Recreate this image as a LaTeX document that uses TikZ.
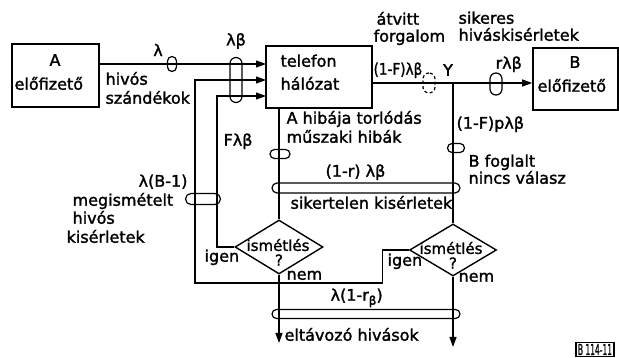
\documentclass[tikz,border=0pt]{standalone}
\usepackage{fontspec}
\setmainfont{DejaVu Sans}[FakeBold=1.6]
\usetikzlibrary{arrows.meta,shapes.geometric}
\begin{document}
\begin{tikzpicture}[x=1pt,y=-1pt,line width=1.2pt,
  lbl/.style={inner sep=0pt,font=\fontsize{16}{18}\selectfont},
  lw/.style={lbl,anchor=mid west},
  dl/.style={inner sep=0pt,font=\fontsize{15}{16}\selectfont},
  box/.style={draw,line width=1.7pt,inner sep=0pt},
  dia/.style={draw,diamond,inner sep=0pt,line width=1.4pt},
  slot/.style={draw,inner sep=0pt,line width=1.2pt},
  arr/.style={-{Triangle[length=10pt,width=7pt]}}]
\useasboundingbox (0,0) rectangle (619,358);
% boxes
\node[box,minimum width=87pt,minimum height=63pt] (A) at (55.5,75.5) {};
\node[box,minimum width=106pt,minimum height=62pt] (tel) at (319,77) {};
\node[box,minimum width=85pt,minimum height=62pt] (B) at (575.5,79) {};
\node[dia,minimum width=88pt,minimum height=54pt] (d1) at (279,247) {};
\node[dia,minimum width=87pt,minimum height=52pt] (d2) at (453,250) {};
% coordinates
\coordinate (t1) at (266,64);
\coordinate (t2) at (266,80);
\coordinate (t3) at (266,96);
\coordinate (jn) at (453,83);
\coordinate (e1) at (279,343);
\coordinate (e2) at (453,347);
% connectors
\draw[arr] (A.east |- t1) -- (t1);
\draw[arr] (d2.west) -- ++(-26,0) |- (195,283) |- (t2);
\draw[arr] (d1.west) -- (217,247) |- (t3);
\draw (tel.south -| d1.north) -- (d1.north);
\draw[arr] (tel.east |- jn) -- (B.west |- jn);
\draw (jn) -- (d2.north);
\draw[arr] (d1.south) -- (e1);
\draw[arr] (d2.south) -- (e2);
% slots
\node[slot,rounded corners=4.5pt,minimum width=9pt,minimum height=15pt] (s1) at (172,64) {};
\node[slot,rounded corners=6pt,minimum width=12pt,minimum height=45pt] (s2) at (236,80) {};
\node[slot,rounded corners=4.5pt,minimum width=20pt,minimum height=9pt] (s3) at (280,154) {};
\node[slot,rounded corners=4.5pt,minimum width=17pt,minimum height=9pt] (s4) at (456,148) {};
\node[slot,rounded corners=5pt,minimum width=188pt,minimum height=10pt] (s5) at (366,188) {};
\node[slot,rounded corners=5.5pt,minimum width=35pt,minimum height=11pt] (s6) at (203,199) {};
\node[slot,rounded corners=4.5pt,minimum width=188pt,minimum height=9pt] (s7) at (366,314) {};
\node[slot,dashed,dash pattern=on 3pt off 2.5pt,rounded corners=6pt,minimum width=12pt,minimum height=20pt] (s8) at (429,83) {};
\node[slot,rounded corners=6pt,minimum width=12pt,minimum height=22pt] (s9) at (496,84) {};
% texts
\node[lbl] (tA) at (55,60) {A};
\node[lw] (tA2) at (14,87) {előfizető};
\node[lw] (h1) at (105,82) {hivós};
\node[lw] (h2) at (105,101) {szándékok};
\node[lbl] (l1) at (158,50) {λ};
\node[lbl] (l2) at (236,41) {λβ};
\node[lw] (tt1) at (280,64) {telefon};
\node[lw] (tt2) at (280,87) {hálózat};
\node[lw] (a1) at (376,22) {átvitt};
\node[lw] (a2) at (373,39) {forgalom};
\node[lw] (k1) at (458,21) {sikeres};
\node[lw] (k2) at (458,38) {hiváskisérletek};
\node[lw] (f1) at (373,72) {\scalebox{0.85}[1]{(1-F)λβ}};
\node[lbl] (Y) at (448,70) {Y};
\node[lw] (r1) at (495,66) {rλβ};
\node[lbl] (tB) at (575,62) {B};
\node[lw] (tB2) at (537,89) {előfizető};
\node[lw] (ah1) at (286,121) {A hibája torlódás};
\node[lw] (ah2) at (286,140) {műszaki hibák};
\node[lw] (F) at (223,143) {Fλβ};
\node[lw] (fp) at (456,126) {(1-F)pλβ};
\node[lw] (bf1) at (468,164) {B foglalt};
\node[lw] (bf2) at (468,181) {nincs válasz};
\node[lw] (rl) at (325,174) {(1-r) λβ};
\node[lw] (sk) at (290,206) {sikertelen kisérletek};
\node[lw] (lb) at (138,184) {λ(B-1)};
\node[lw] (m1) at (72,203) {megismételt};
\node[lw] (m2) at (72,221) {hivós};
\node[lw] (m3) at (66,240) {kisérletek};
\node[dl] (i1) at (278,245) {ismétlés};
\node[dl] (q1) at (279,260) {?};
\node[lw] (ig1) at (204,259) {igen};
\node[lw] (n1) at (286,277) {nem};
\node[dl] (i2) at (451,248) {ismétlés};
\node[dl] (q2) at (453,263) {?};
\node[lw] (ig2) at (387,263) {igen};
\node[lw] (n2) at (458,279) {nem};
\node[lw] (lr) at (330,298) {λ(1-r\raisebox{-4pt}{\fontsize{12}{12}\selectfont β})};
\node[lw] (el) at (284,338) {eltávozó hivások};
\node[box,line width=1.3pt,minimum width=38pt,minimum height=14pt] (code) at (595,349.5) {\fontsize{15}{15}\selectfont\scalebox{0.5}[1]{B 114-11}};
\end{tikzpicture}
\end{document}
